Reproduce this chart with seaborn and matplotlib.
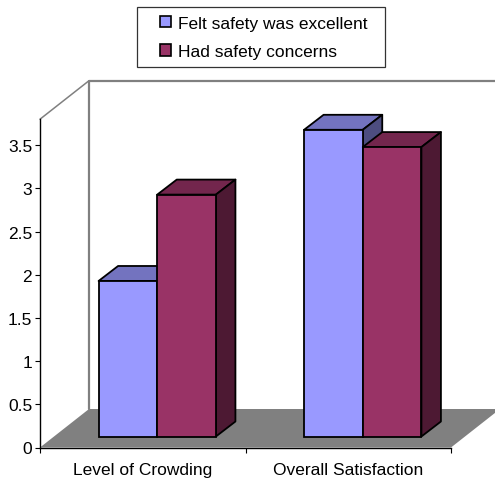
import matplotlib
matplotlib.use("Agg")
import matplotlib.pyplot as plt
from matplotlib.patches import Patch, Polygon, Rectangle
from matplotlib.lines import Line2D
from matplotlib.transforms import Affine2D
import pandas as pd
import seaborn as sns

categories = ["Level of Crowding", "Overall Satisfaction"]
series_names = ["Felt safety was excellent", "Had safety concerns"]
excellent_values = [1.8, 3.55]
concerns_values = [2.8, 3.35]
y_ticks = [0, 0.5, 1, 1.5, 2, 2.5, 3, 3.5]
y_tick_labels = ["0", "0.5", "1", "1.5", "2", "2.5", "3", "3.5"]

FRONT = ["#9999FF", "#993366"]
TOP = ["#7373BF", "#73264D"]
SIDE = ["#4D4D80", "#4D1933"]
WALL = "#808080"

W, H = 495, 481
sns.set_theme(style="white")
plt.rcParams["font.family"] = ["Liberation Sans", "DejaVu Sans"]
FONT = 12.5

df = pd.DataFrame({
    "category": categories * 2,
    "series": [series_names[0]] * 2 + [series_names[1]] * 2,
    "value": excellent_values + concerns_values,
})

fig = plt.figure(figsize=(W / 100, H / 100), dpi=100, facecolor="white")
ax = fig.add_axes([40 / W, (H - 448.5) / H, 411 / W, 328.3 / H])
sns.barplot(data=df, x="category", y="value", hue="series", palette=FRONT,
            hue_order=series_names, order=categories, width=0.571, gap=0,
            dodge=True, legend=False, errorbar=None, ax=ax, saturation=1,
            edgecolor="black", linewidth=1.3)
ax.set_xlim(-0.5, 1.5)
ax.set_ylim(0, 3.8)


def shifted(dx, dy):
    """Data coordinates displaced by a pixel offset for the 3-D projection."""
    return ax.transData + Affine2D().translate(dx, dy)


# Room depth and where the bars stand on the floor, in pixels
ROOM_DX, ROOM_DY = 49, 38.5
BAR_DX, BAR_DY = 14.5, 11
BAR_DEPTH_X, BAR_DEPTH_Y = 19.5, 15

# Floor
x0, x1 = ax.get_xlim()
y_top = ax.get_ylim()[1]
(px0, py0), (px1, _) = ax.transData.transform([(x0, 0), (x1, 0)])
ax.add_patch(Polygon([(px0, py0), (px1, py0), (px1 + ROOM_DX, py0 + ROOM_DY),
                      (px0 + ROOM_DX, py0 + ROOM_DY)], closed=True,
                     facecolor=WALL, edgecolor="none", transform=None,
                     zorder=0.5, clip_on=False))

# Back wall outline
ax.add_line(Line2D([x0, x0, x1 + 0.2], [0, y_top, y_top], color=WALL, lw=1.6,
                   transform=shifted(ROOM_DX, ROOM_DY), zorder=0.6, clip_on=False))
(tx, ty) = ax.transData.transform((x0, y_top))
ax.add_line(Line2D([tx, tx + ROOM_DX], [ty, ty + ROOM_DY], color=WALL, lw=1.1,
                   transform=None, zorder=0.6, clip_on=False))

# Extrude every bar into a box
for s, container in enumerate(ax.containers):
    for bar in container:
        z = 2 + s
        left, width, height = bar.get_x(), bar.get_width(), bar.get_height()
        bar.set_transform(shifted(BAR_DX, BAR_DY))
        bar.set_clip_on(False)
        bar.set_zorder(z + 0.2)
        (xa, ya), (xb, yb) = ax.transData.transform(
            [(left, 0), (left + width, height)])
        xa, xb = xa + BAR_DX, xb + BAR_DX
        ya, yb = ya + BAR_DY, yb + BAR_DY
        style = dict(edgecolor="black", linewidth=1.3, transform=None,
                     clip_on=False, joinstyle="round")
        ax.add_patch(Polygon([(xa, yb), (xb, yb),
                              (xb + BAR_DEPTH_X, yb + BAR_DEPTH_Y),
                              (xa + BAR_DEPTH_X, yb + BAR_DEPTH_Y)],
                             closed=True, facecolor=TOP[s], zorder=z, **style))
        ax.add_patch(Polygon([(xb, ya), (xb + BAR_DEPTH_X, ya + BAR_DEPTH_Y),
                              (xb + BAR_DEPTH_X, yb + BAR_DEPTH_Y), (xb, yb)],
                             closed=True, facecolor=SIDE[s], zorder=z, **style))

# Axes
sns.despine(ax=ax, top=True, right=True)
for side in ("left", "bottom"):
    ax.spines[side].set_color("black")
    ax.spines[side].set_linewidth(1.0)
    ax.spines[side].set_zorder(1)
ax.set_xlabel("")
ax.set_ylabel("")
ax.set_yticks(y_ticks, y_tick_labels)
ax.set_xticks([0, 1], categories)
ax.set_xticks([-0.5, 0.5, 1.5], minor=True)
ax.tick_params(axis="y", which="major", left=True, length=3.6, width=0.8,
               color="black", labelsize=FONT, labelcolor="black", pad=2)
ax.tick_params(axis="x", which="major", bottom=False, labelsize=FONT,
               labelcolor="black", pad=4.5)
ax.tick_params(axis="x", which="minor", bottom=True, length=3.6, width=0.8,
               color="black")

# Legend, with its frame as a separate figure rectangle
fig.add_artist(Rectangle((136.5 / W, (H - 67.5) / H), 248.5 / W, 60 / H,
                         transform=fig.transFigure, facecolor="white",
                         edgecolor="#333333", linewidth=0.9))
handles = [Patch(facecolor=c, edgecolor="black", linewidth=1.2, label=n)
           for c, n in zip(FRONT, series_names)]
fig.legend(handles=handles, loc="upper left",
           bbox_to_anchor=(160 / W, (H - 16.5) / H), frameon=False, fontsize=FONT,
           handlelength=0.66, handleheight=0.66, handletextpad=0.36,
           labelspacing=0.78, borderpad=0, borderaxespad=0, labelcolor="black")

fig.savefig("out.png", dpi=100, facecolor="white")
